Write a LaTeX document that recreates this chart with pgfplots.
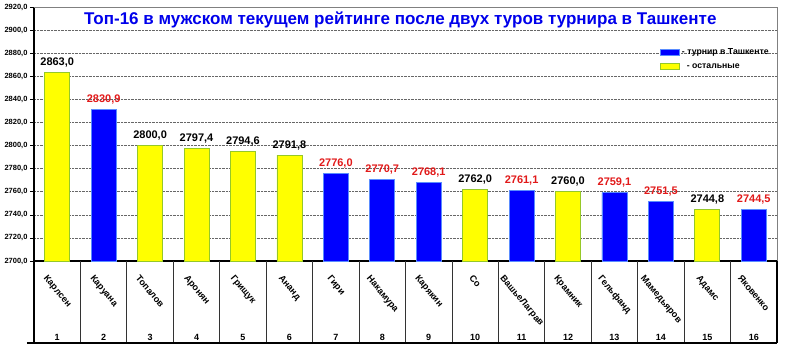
\documentclass[border=0pt]{standalone}
\usepackage{fontspec}
\setmainfont{Liberation Sans}
\usepackage{graphicx}
\usepackage{pgfplots}
\pgfplotsset{compat=1.18}
\definecolor{barblue}{RGB}{0,0,255}
\definecolor{baryel}{RGB}{255,255,0}
\definecolor{yedge}{RGB}{150,200,40}
\definecolor{bedge}{RGB}{90,140,255}
\definecolor{valred}{RGB}{225,25,25}
\definecolor{titleblue}{RGB}{0,0,235}
\newcommand\rl[1]{\rotatebox{-50}{#1}}
\pgfkeys{/pgf/number format/myfmt/.style={/pgf/number format/use comma, /pgf/number format/fixed, /pgf/number format/fixed zerofill, /pgf/number format/precision=1, /pgf/number format/1000 sep={}, /pgf/number format/assume math mode=true}}
\begin{document}
\begin{tikzpicture}[font=\bfseries]
\path[use as bounding box] (-34pt,-92pt) rectangle (751pt,261pt);
\begin{axis}[
  at={(0,0)}, anchor=south west,
  scale only axis, width=743pt, height=254pt,
  xmin=0.5, xmax=16.5, ymin=2700, ymax=2920,
  ytick={2700,2720,...,2920},
  ybar, bar width=25pt,
  xtick={1,...,16},
  xticklabels={\rl{Карлсен},\rl{Каруана},\rl{Топалов},\rl{Аронян},\rl{Грищук},\rl{Ананд},\rl{Гири},\rl{Накамура},\rl{Карякин},\rl{Со},\rl{ВашьеЛаграв},\rl{Крамник},\rl{Гельфанд},\rl{Мамедьяров},\rl{Адамс},\rl{Яковенко}},
  x tick label style={anchor=north, yshift=-6pt, font=\bfseries\fontsize{9.2}{10}\selectfont},
  xtick style={draw=none},
  axis x line*=bottom, axis y line*=left,
  x axis line style={line width=1.6pt, black},
  y axis line style={line width=1.2pt, black},
  ytick style={black, line width=0.6pt},
  tick align=outside, major tick length=4pt,
  ymajorgrids, grid style={densely dotted, gray!80!black, line width=0.6pt},
  y tick label style={font=\bfseries\fontsize{7.5}{9}\selectfont, xshift=1pt, /pgf/number format/myfmt},
  nodes near coords,
  nodes near coords style={font=\bfseries\fontsize{11}{13}\selectfont, yshift=1.5pt, /pgf/number format/myfmt},
  clip=false,
  legend style={draw=none, fill=none, at={(rel axis cs:0.8425,0.845)}, anchor=north west, font=\bfseries\fontsize{8.7}{9}\selectfont, row sep=3.5pt, inner sep=0pt},
  legend cell align=left,
  legend image code/.code={\draw[#1] (0pt,-3pt) rectangle (19pt,3pt);},
]
\addplot[bar shift=0pt, fill=barblue, draw=bedge, line width=0.8pt, every node near coord/.append style={text=valred}] coordinates {
(2,2830.9) (7,2776.0) (8,2770.7) (9,2768.1) (11,2761.1) (13,2759.1) (14,2751.5) (16,2744.5)};
\addplot[bar shift=0pt, fill=baryel, draw=yedge, line width=0.8pt, every node near coord/.append style={text=black}] coordinates {
(1,2863.0) (3,2800.0) (4,2797.4) (5,2794.6) (6,2791.8) (10,2762.0) (12,2760.0) (15,2744.8)};
\legend{- турнир в Ташкенте, \ \ - остальные}
\draw[gray, line width=0.8pt] (rel axis cs:0,1) -- (rel axis cs:1,1) -- (rel axis cs:1,0);
\draw[black, line width=1.2pt] (rel axis cs:0,0) -- ([yshift=-82pt]rel axis cs:0,0);
\draw[black, line width=1.4pt] (rel axis cs:1,0) -- ([yshift=-82pt]rel axis cs:1,0);
\pgfplotsinvokeforeach{1.5,2.5,...,15.5}{\draw[black!80, line width=0.8pt] (axis cs:#1,2700) -- ([yshift=-82pt]axis cs:#1,2700);}
\draw[black, line width=1.6pt] ([xshift=-7pt,yshift=-82pt]rel axis cs:0,0) -- ([yshift=-82pt]rel axis cs:1,0);
\pgfplotsinvokeforeach{1,...,16}{\node[font=\bfseries\fontsize{9}{10}\selectfont] at ([yshift=-76pt]axis cs:#1,2700) {#1};}
\node[text=titleblue, font=\bfseries\fontsize{17}{20}\selectfont] at (rel axis cs:0.493,0.949) {Топ-16 в мужском текущем рейтинге после двух туров турнира в Ташкенте};
\end{axis}
\end{tikzpicture}
\end{document}
